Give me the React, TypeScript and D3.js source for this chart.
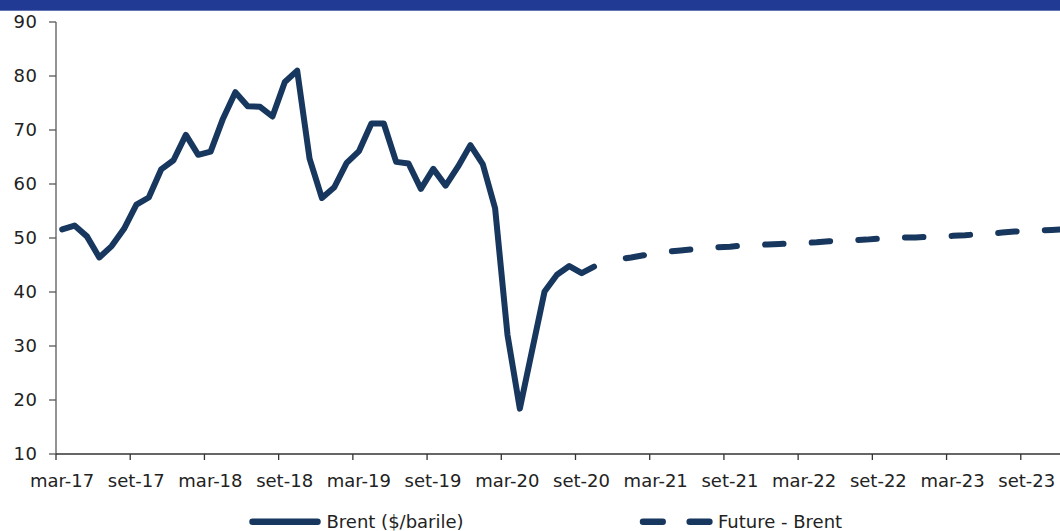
import React from "react";
import * as d3 from "d3";

// Monthly data, starting mar-17 (month index 0)
const brentValues: number[] = [
  51.6, 52.3, 50.3, 46.4, 48.5, 51.7, 56.2, 57.5, 62.7, 64.4,
  69.1, 65.4, 66.0, 72.1, 77.0, 74.4, 74.3, 72.5, 78.9, 81.0,
  64.7, 57.4, 59.4, 63.9, 66.1, 71.2, 71.2, 64.1, 63.8, 59.1,
  62.8, 59.7, 63.2, 67.2, 63.7, 55.5, 32.1, 18.4, 29.3, 40.1,
  43.2, 44.8, 43.5, 44.7,
];
// Futures, starting dec-20 (month index 45)
const futureStartIndex = 45;
const futureValues: number[] = [
  46.1, 46.4, 46.8, 47.2, 47.5, 47.7, 47.9, 48.1, 48.3, 48.4,
  48.6, 48.7, 48.8, 48.9, 49.0, 49.1, 49.2, 49.4, 49.5, 49.6,
  49.7, 49.9, 50.0, 50.1, 50.1, 50.2, 50.3, 50.4, 50.5, 50.7,
  50.8, 51.0, 51.2, 51.3, 51.4, 51.5, 51.6,
];
const xTickLabels: string[] = [
  "mar-17", "set-17", "mar-18", "set-18", "mar-19", "set-19", "mar-20",
  "set-20", "mar-21", "set-21", "mar-22", "set-22", "mar-23", "set-23",
];
const yTicks: number[] = [10, 20, 30, 40, 50, 60, 70, 80, 90];
const seriesNames: string[] = ["Brent ($/barile)", "Future - Brent"];

const W = 1060;
const H = 531;
const LINE = "#17375E";
const FONT = "'DejaVu Sans', Verdana, sans-serif";

export default function App() {
  const x = d3.scaleLinear().domain([0, 84]).range([56, 1095]);
  const y = d3.scaleLinear().domain([10, 90]).range([454, 22]);

  const line = d3
    .line<[number, number]>()
    .x((d) => x(d[0]))
    .y((d) => y(d[1]));

  const brentPts: [number, number][] = brentValues.map((v, i) => [i + 0.5, v]);
  const futurePts: [number, number][] = futureValues.map((v, i) => [
    futureStartIndex + i + 0.5,
    v,
  ]);

  return (
    <div style={{ position: "fixed", left: 0, top: 0, width: W, height: H, background: "#fff" }}>
      <svg width={W} height={H} style={{ display: "block" }}>
        <rect x={0} y={0} width={W} height={10.7} fill="#213B95" />

        {/* y axis */}
        <line x1={56} x2={56} y1={y(90)} y2={y(10)} stroke="#595959" strokeWidth={1.3} />
        {yTicks.map((t) => (
          <g key={t}>
            <line x1={49} x2={56} y1={y(t)} y2={y(t)} stroke="#595959" strokeWidth={1.3} />
            <text
              x={37.5}
              y={y(t) + 6.4}
              textAnchor="end"
              fontFamily={FONT}
              fontSize={18}
              letterSpacing={0.6}
              fill="#222"
            >
              {t}
            </text>
          </g>
        ))}

        {/* x axis */}
        <line x1={56} x2={W} y1={y(10)} y2={y(10)} stroke="#333" strokeWidth={1.3} />
        {xTickLabels.map((lab, i) => {
          const xv = x(i * 6);
          return (
            <g key={lab}>
              <line x1={xv} x2={xv} y1={454} y2={460} stroke="#333" strokeWidth={1.3} />
              <text
                x={xv + 6}
                y={486.5}
                textAnchor="middle"
                fontFamily={FONT}
                fontSize={18}
                fill="#222"
              >
                {lab}
              </text>
            </g>
          );
        })}

        {/* series */}
        <path
          d={line(brentPts) || ""}
          fill="none"
          stroke={LINE}
          strokeWidth={6}
          strokeLinejoin="round"
          strokeLinecap="round"
        />
        <path
          d={line(futurePts) || ""}
          fill="none"
          stroke={LINE}
          strokeWidth={6}
          strokeLinejoin="round"
          strokeLinecap="round"
          strokeDasharray="18.5 28.2"
          strokeDashoffset={39.7}
        />

        {/* legend */}
        <line x1={252.5} x2={317.5} y1={521.7} y2={521.7} stroke={LINE} strokeWidth={6.5} strokeLinecap="round" />
        <text x={326.5} y={528} fontFamily={FONT} fontSize={18} fill="#222">
          {seriesNames[0]}
        </text>
        <line
          x1={643}
          x2={709.5}
          y1={521.7}
          y2={521.7}
          stroke={LINE}
          strokeWidth={6.5}
          strokeLinecap="round"
          strokeDasharray="19.7 27"
        />
        <text x={718} y={528} fontFamily={FONT} fontSize={18} fill="#222">
          {seriesNames[1]}
        </text>
      </svg>
    </div>
  );
}
